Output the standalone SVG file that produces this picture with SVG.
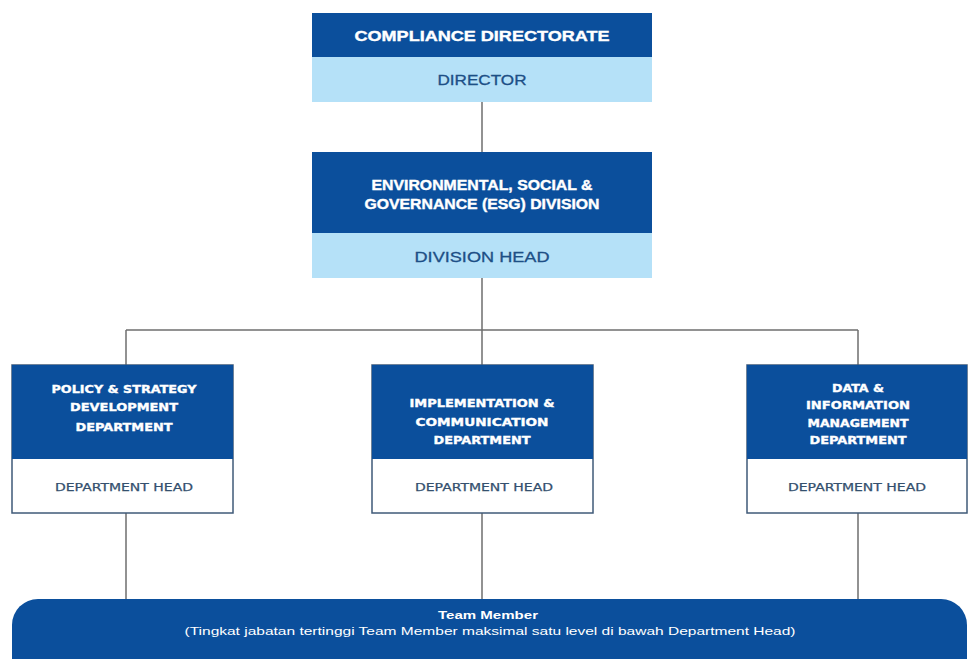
<svg xmlns="http://www.w3.org/2000/svg" width="968" height="659" viewBox="0 0 968 659">
<style>
.dark{fill:#0b4f9c}
.light{fill:#b5e1f8}
.deptbody{fill:#ffffff;stroke:#3f5a78;stroke-width:1.5}
.conn{stroke:#6e6e6e;stroke-width:1.5;fill:none}
.hdr{font-family:"Liberation Sans",Arial,sans-serif;font-weight:bold;fill:#ffffff;stroke:#ffffff;stroke-width:0.4;text-anchor:middle}
.role{font-family:"Liberation Sans",Arial,sans-serif;fill:#1d4f86;stroke:#1d4f86;stroke-width:0.3;text-anchor:middle}
.dept{font-family:"DejaVu Sans",sans-serif;font-weight:bold;font-size:10.5px;fill:#ffffff;stroke:#ffffff;stroke-width:0.35;text-anchor:middle}
.dhead{font-family:"DejaVu Sans",sans-serif;font-size:10.5px;fill:#34506e;stroke:#34506e;stroke-width:0.25;text-anchor:middle}
.pill{font-family:"Liberation Sans",Arial,sans-serif;fill:#ffffff;text-anchor:middle}
</style>
<rect width="968" height="659" fill="#ffffff"/>
<g id="connectors">
<line class="conn" x1="482" y1="102" x2="482" y2="152"/>
<line class="conn" x1="482" y1="278" x2="482" y2="365"/>
<line class="conn" x1="126" y1="330" x2="858" y2="330"/>
<line class="conn" x1="126" y1="330" x2="126" y2="365"/>
<line class="conn" x1="858" y1="330" x2="858" y2="365"/>
<line class="conn" x1="126" y1="513" x2="126" y2="599"/>
<line class="conn" x1="482" y1="513" x2="482" y2="599"/>
<line class="conn" x1="858" y1="513" x2="858" y2="599"/>
</g>
<g id="compliance-directorate">
<rect class="dark" x="312" y="13" width="340" height="44"/>
<rect class="light" x="312" y="57" width="340" height="45"/>
<text class="hdr" x="482" y="41" font-size="15.5" textLength="255" lengthAdjust="spacingAndGlyphs">COMPLIANCE DIRECTORATE</text>
<text class="role" x="482" y="85" font-size="14.5" textLength="89" lengthAdjust="spacingAndGlyphs">DIRECTOR</text>
</g>
<g id="esg-division">
<rect class="dark" x="312" y="152" width="340" height="81"/>
<rect class="light" x="312" y="233" width="340" height="45"/>
<text class="hdr" x="482" y="190" font-size="15" textLength="221" lengthAdjust="spacingAndGlyphs">ENVIRONMENTAL, SOCIAL &amp;</text>
<text class="hdr" x="482" y="209" font-size="15" textLength="235" lengthAdjust="spacingAndGlyphs">GOVERNANCE (ESG) DIVISION</text>
<text class="role" x="482" y="262" font-size="15" textLength="135" lengthAdjust="spacingAndGlyphs">DIVISION HEAD</text>
</g>
<g id="policy-strategy-dept">
<rect class="deptbody" x="12" y="365" width="221" height="148"/>
<rect class="dark" x="12" y="365" width="221" height="94"/>
<text class="dept" x="124" y="393" textLength="145" lengthAdjust="spacingAndGlyphs">POLICY &amp; STRATEGY</text>
<text class="dept" x="124" y="411" textLength="108" lengthAdjust="spacingAndGlyphs">DEVELOPMENT</text>
<text class="dept" x="124" y="431" textLength="97" lengthAdjust="spacingAndGlyphs">DEPARTMENT</text>
<text class="dhead" x="124" y="491" textLength="138" lengthAdjust="spacingAndGlyphs">DEPARTMENT HEAD</text>
</g>
<g id="implementation-dept">
<rect class="deptbody" x="372" y="365" width="221" height="148"/>
<rect class="dark" x="372" y="365" width="221" height="94"/>
<text class="dept" x="482" y="407" textLength="145" lengthAdjust="spacingAndGlyphs">IMPLEMENTATION &amp;</text>
<text class="dept" x="482" y="426" textLength="133" lengthAdjust="spacingAndGlyphs">COMMUNICATION</text>
<text class="dept" x="482" y="444" textLength="97" lengthAdjust="spacingAndGlyphs">DEPARTMENT</text>
<text class="dhead" x="484" y="491" textLength="138" lengthAdjust="spacingAndGlyphs">DEPARTMENT HEAD</text>
</g>
<g id="data-information-dept">
<rect class="deptbody" x="747" y="365" width="220" height="148"/>
<rect class="dark" x="747" y="365" width="220" height="94"/>
<text class="dept" x="858" y="392" textLength="52" lengthAdjust="spacingAndGlyphs">DATA &amp;</text>
<text class="dept" x="858" y="409" textLength="104" lengthAdjust="spacingAndGlyphs">INFORMATION</text>
<text class="dept" x="858" y="427" textLength="101" lengthAdjust="spacingAndGlyphs">MANAGEMENT</text>
<text class="dept" x="858" y="444" textLength="97" lengthAdjust="spacingAndGlyphs">DEPARTMENT</text>
<text class="dhead" x="857" y="491" textLength="138" lengthAdjust="spacingAndGlyphs">DEPARTMENT HEAD</text>
</g>
<g id="team-member">
<rect class="dark" x="12" y="599" width="955" height="90" rx="26" ry="26"/>
<text class="pill" x="488" y="619" font-size="11.5" font-weight="bold" textLength="100" lengthAdjust="spacingAndGlyphs">Team Member</text>
<text class="pill" x="490" y="635" font-size="11.5" textLength="611" lengthAdjust="spacingAndGlyphs">(Tingkat jabatan tertinggi Team Member maksimal satu level di bawah Department Head)</text>
</g>
</svg>
